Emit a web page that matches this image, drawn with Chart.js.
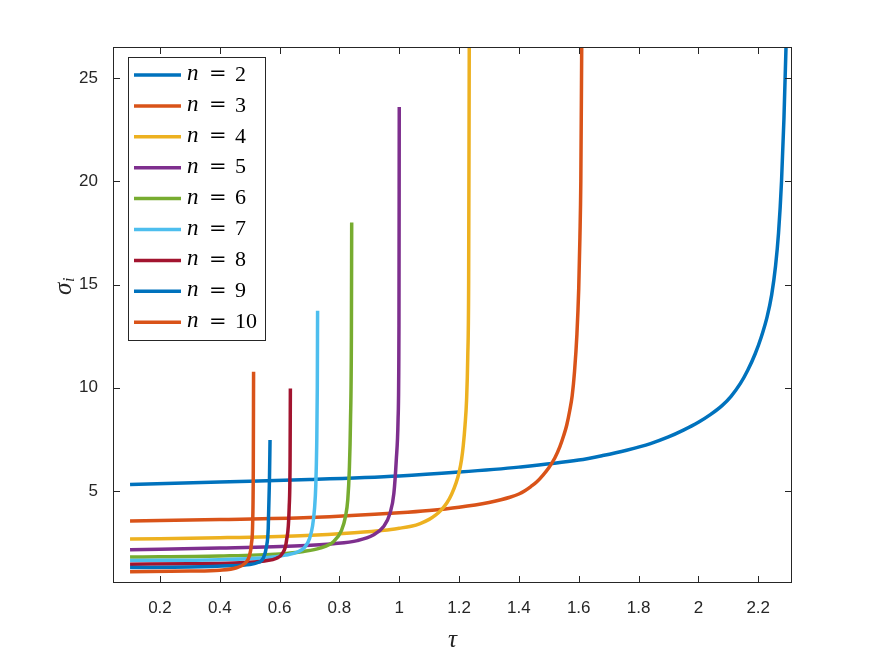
<!DOCTYPE html>
<html>
<head>
<meta charset="utf-8">
<script src="https://cdn.jsdelivr.net/npm/chart.js@4.4.0/dist/chart.umd.min.js"></script>
<style>
  html, body { margin: 0; padding: 0; background: #fff; }
  #wrap { width: 875px; height: 657px; }
</style>
</head>
<body>
<div id="wrap"><canvas id="chart" width="875" height="657"></canvas></div>
<script>
// axis ticks
const xTicks = [0.2, 0.4, 0.6, 0.8, 1, 1.2, 1.4, 1.6, 1.8, 2, 2.2];
const yTicks = [5, 10, 15, 20, 25];
const nValues = [2, 3, 4, 5, 6, 7, 8, 9, 10];

// sigma_i vs tau
const tauN2 = [0.1, 0.4, 0.7, 1.0, 1.2, 1.4, 1.6, 1.68, 1.76, 1.84, 1.9, 1.95, 2.0, 2.04, 2.08, 2.11, 2.14, 2.165, 2.19, 2.21, 2.23, 2.245, 2.258, 2.268, 2.278, 2.286, 2.293, 2.297];
const sigmaN2 = [5.32, 5.44, 5.56, 5.73, 5.92, 6.16, 6.5, 6.72, 6.98, 7.3, 7.62, 7.95, 8.33, 8.7, 9.15, 9.6, 10.2, 10.85, 11.65, 12.45, 13.45, 14.5, 15.9, 17.5, 20, 23, 26.5, 29];
const tauN3 = [0.1, 0.4, 0.7, 1.0, 1.1, 1.2, 1.3, 1.34, 1.37, 1.4, 1.42, 1.44, 1.46, 1.48, 1.5, 1.52, 1.537, 1.55, 1.56, 1.57, 1.578, 1.586, 1.594, 1.6, 1.604, 1.607, 1.61, 1.612];
const sigmaN3 = [3.55, 3.62, 3.72, 3.95, 4.06, 4.22, 4.45, 4.58, 4.7, 4.86, 5.02, 5.22, 5.45, 5.76, 6.13, 6.6, 7.15, 7.7, 8.2, 8.9, 9.6, 10.8, 12.6, 14.8, 17.3, 20, 26.5, 30];
const tauN4 = [0.1, 0.4, 0.67, 0.85, 0.95, 1.0, 1.04, 1.07, 1.1, 1.12, 1.14, 1.16, 1.175, 1.19, 1.2, 1.208, 1.214, 1.22, 1.225, 1.229, 1.232, 1.234, 1.235];
const sigmaN4 = [2.68, 2.74, 2.84, 2.98, 3.1, 3.2, 3.3, 3.43, 3.63, 3.82, 4.08, 4.45, 4.85, 5.4, 5.9, 6.5, 7.2, 8.2, 9.4, 11.5, 15.2, 26.5, 30];
const tauN5 = [0.1, 0.4, 0.668, 0.78, 0.86, 0.913, 0.947, 0.969, 0.982, 0.99, 0.996, 0.999, 1.0];
const sigmaN5 = [2.16, 2.24, 2.35, 2.45, 2.6, 2.87, 3.27, 3.92, 4.89, 6.5, 8.44, 13, 23.6];
const tauN6 = [0.1, 0.4, 0.6, 0.68, 0.735, 0.78, 0.807, 0.82, 0.828, 0.833, 0.837, 0.84, 0.841];
const sigmaN6 = [1.81, 1.86, 1.96, 2.08, 2.24, 2.55, 3.1, 3.75, 4.6, 6.0, 8.4, 12.5, 18.0];
const tauN7 = [0.1, 0.4, 0.55, 0.62, 0.66, 0.685, 0.7, 0.71, 0.717, 0.721, 0.724, 0.726, 0.727];
const sigmaN7 = [1.64, 1.68, 1.77, 1.9, 2.05, 2.3, 2.7, 3.3, 4.2, 5.3, 7.2, 10, 13.73];
const tauN8 = [0.1, 0.3, 0.45, 0.55, 0.59, 0.61, 0.623, 0.632, 0.635, 0.636];
const sigmaN8 = [1.46, 1.48, 1.52, 1.62, 1.75, 2.0, 2.6, 4.2, 6.5, 9.97];
const tauN9 = [0.1, 0.3, 0.434, 0.5, 0.523, 0.545, 0.556, 0.562, 0.566, 0.568];
const sigmaN9 = [1.30, 1.32, 1.38, 1.45, 1.52, 1.75, 2.3, 3.2, 5.5, 7.47];
const tauN10 = [0.1, 0.3, 0.4, 0.456, 0.484, 0.498, 0.506, 0.51, 0.512, 0.513];
const sigmaN10 = [1.10, 1.13, 1.17, 1.29, 1.5, 1.82, 2.47, 3.5, 6.0, 10.78];

const tauData = [tauN2, tauN3, tauN4, tauN5, tauN6, tauN7, tauN8, tauN9, tauN10];
const sigmaData = [sigmaN2, sigmaN3, sigmaN4, sigmaN5, sigmaN6, sigmaN7, sigmaN8, sigmaN9, sigmaN10];
const lineColors = ['#0072BD', '#D95319', '#EDB120', '#7E2F8E', '#77AC30', '#4DBEEE', '#A2142F', '#0072BD', '#D95319'];

const axisColor = '#262626';

// box, inward ticks, legend and axis labels, matlab style
const matlabFrame = {
  id: 'matlabFrame',
  afterDraw(chart) {
    const { ctx, chartArea: a, scales } = chart;
    const x = scales.x, y = scales.y;
    ctx.save();
    ctx.strokeStyle = axisColor;
    ctx.lineWidth = 1;
    ctx.strokeRect(a.left + 0.5, a.top + 0.5, a.right - a.left - 1, a.bottom - a.top - 1);

    const tl = 7;
    ctx.beginPath();
    xTicks.forEach(v => {
      const px = Math.round(x.getPixelForValue(v)) + 0.5;
      ctx.moveTo(px, a.bottom); ctx.lineTo(px, a.bottom - tl);
      ctx.moveTo(px, a.top); ctx.lineTo(px, a.top + tl);
    });
    yTicks.forEach(v => {
      const py = Math.round(y.getPixelForValue(v)) + 0.5;
      ctx.moveTo(a.left, py); ctx.lineTo(a.left + tl, py);
      ctx.moveTo(a.right, py); ctx.lineTo(a.right - tl, py);
    });
    ctx.stroke();

    // legend
    const lx = a.left + 15, ly = a.top + 10, lw = 137, lh = 283;
    ctx.fillStyle = '#fff';
    ctx.fillRect(lx, ly, lw, lh);
    ctx.strokeRect(lx + 0.5, ly + 0.5, lw, lh);
    chart.data.datasets.forEach((ds, i) => {
      const ry = ly + 18 + i * 30.9;
      ctx.strokeStyle = ds.borderColor;
      ctx.lineWidth = 3.5;
      ctx.beginPath();
      ctx.moveTo(lx + 6, ry); ctx.lineTo(lx + 53, ry);
      ctx.stroke();
      ctx.fillStyle = '#000';
      ctx.textBaseline = 'middle';
      ctx.textAlign = 'left';
      ctx.font = 'italic 23px "Liberation Serif"';
      ctx.fillText('n', lx + 59, ry - 1);
      ctx.font = '21px "DejaVu Serif"';
      ctx.fillText('=', lx + 81, ry);
      ctx.font = '22px "Liberation Serif"';
      ctx.fillText(String(nValues[i]), lx + 107, ry);
    });

    // axis labels
    ctx.fillStyle = axisColor;
    ctx.textAlign = 'center';
    ctx.textBaseline = 'middle';
    ctx.font = 'italic 25px "Liberation Serif"';
    ctx.fillText('τ', (a.left + a.right) / 2, 640);

    ctx.translate(64, 285);
    ctx.rotate(-Math.PI / 2);
    ctx.textAlign = 'left';
    ctx.font = 'italic 25px "Liberation Serif"';
    ctx.fillText('σ', -10, 0);
    ctx.font = 'italic 16px "Liberation Serif"';
    ctx.fillText('i', 3, 6);
    ctx.restore();
  }
};

const datasets = nValues.map((n, i) => ({
  label: 'n = ' + n,
  data: tauData[i].map((t, j) => ({ x: t, y: sigmaData[i][j] })),
  borderColor: lineColors[i],
  backgroundColor: lineColors[i],
  borderWidth: 3.5,
  pointRadius: 0,
  fill: false,
  cubicInterpolationMode: 'monotone',
  clip: 0,
  order: nValues.length - i
}));

new Chart(document.getElementById('chart'), {
  type: 'line',
  data: { datasets },
  options: {
    responsive: false,
    animation: false,
    devicePixelRatio: 1,
    layout: { padding: { top: 47, right: 83, left: 0, bottom: 0 } },
    plugins: { legend: { display: false }, tooltip: { enabled: false } },
    scales: {
      x: {
        type: 'linear',
        min: 0.043,
        max: 2.313,
        grid: { display: false, drawTicks: false },
        border: { display: false },
        afterBuildTicks: (scale) => { scale.ticks = xTicks.map(v => ({ value: v })); },
        afterFit: (scale) => { scale.height = 74; },
        ticks: {
          color: axisColor,
          padding: 15,
          maxRotation: 0,
          font: { family: '"Liberation Sans", Arial, sans-serif', size: 17 },
          callback: (v) => String(v)
        }
      },
      y: {
        type: 'linear',
        min: 0.55,
        max: 26.5,
        grid: { display: false, drawTicks: false },
        border: { display: false },
        afterBuildTicks: (scale) => { scale.ticks = yTicks.map(v => ({ value: v })); },
        afterFit: (scale) => { scale.width = 113; },
        ticks: {
          color: axisColor,
          padding: 15,
          font: { family: '"Liberation Sans", Arial, sans-serif', size: 17 },
          callback: (v) => String(v)
        }
      }
    }
  },
  plugins: [matlabFrame]
});
</script>
</body>
</html>
